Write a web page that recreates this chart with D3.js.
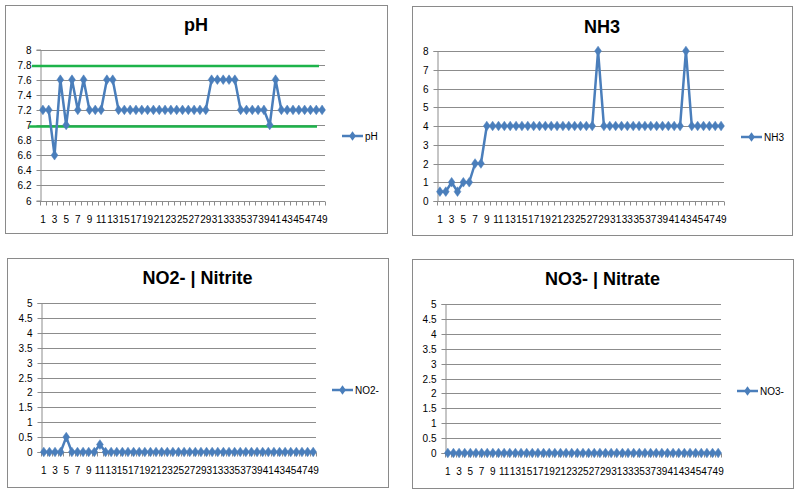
<!DOCTYPE html>
<html>
<head>
<meta charset="utf-8">
<script src="https://cdn.jsdelivr.net/npm/d3@7"></script>
<style>
  html, body { margin: 0; padding: 0; background: #fff; }
  svg { display: block; font-family: "Liberation Sans", Arial, sans-serif; }
</style>
</head>
<body>
<svg id="chart" width="800" height="493"></svg>
<script>
// ---------- DATA ----------
const categories = [1,2,3,4,5,6,7,8,9,10,11,12,13,14,15,16,17,18,19,20,21,22,23,24,25,26,27,28,29,30,31,32,33,34,35,36,37,38,39,40,41,42,43,44,45,46,47,48,49];

const phValues = [7.2,7.2,6.6,7.6,7.0,7.6,7.2,7.6,7.2,7.2,7.2,7.6,7.6,
  7.2,7.2,7.2,7.2,7.2,7.2,7.2,7.2,7.2,7.2,7.2,7.2,7.2,7.2,7.2,7.2,
  7.6,7.6,7.6,7.6,7.6,
  7.2,7.2,7.2,7.2,7.2,
  7.0,7.6,
  7.2,7.2,7.2,7.2,7.2,7.2,7.2,7.2];

const nh3Values = [0.5,0.5,1,0.5,1,1,2,2,
  4,4,4,4,4,4,4,4,4,4,4,4,4,4,4,4,4,4,4,
  8,
  4,4,4,4,4,4,4,4,4,4,4,4,4,4,
  8,
  4,4,4,4,4,4];

const no2Values = [0,0,0,0,0.5,0,0,0,0,0,0.25,
  0,0,0,0,0,0,0,0,0,0,0,0,0,0,0,0,0,0,0,0,0,0,0,0,0,0,0,0,0,0,0,0,0,0,0,0,0,0];

const no3Values = [0,0,0,0,0,0,0,0,0,0,0,0,0,0,0,0,0,0,0,0,0,0,0,0,0,0,0,0,0,0,0,0,0,0,0,0,0,0,0,0,0,0,0,0,0,0,0,0,0];

const phTicks  = [6,6.2,6.4,6.6,6.8,7,7.2,7.4,7.6,7.8,8];
const nh3Ticks = [0,1,2,3,4,5,6,7,8];
const no2Ticks = [0,0.5,1,1.5,2,2.5,3,3.5,4,4.5,5];
const no3Ticks = [0,0.5,1,1.5,2,2.5,3,3.5,4,4.5,5];

const phLimits = [7.78, 6.98];   // green reference lines on the pH chart

const titles = ["pH", "NH3", "NO2- | Nitrite", "NO3- | Nitrate"];
const seriesNames = ["pH", "NH3", "NO2-", "NO3-"];

// ---------- STYLE ----------
const BLUE = "#4a7ebb";
const GRID = "#8c8c8c";
const GREEN = "#1db34a";

const svg = d3.select("#chart");

function drawPanel(cfg) {
  const g = svg.append("g");
  // panel frame
  g.append("rect")
    .attr("x", cfg.panel[0] + 0.5).attr("y", cfg.panel[1] + 0.5)
    .attr("width", cfg.panel[2] - cfg.panel[0]).attr("height", cfg.panel[3] - cfg.panel[1])
    .attr("fill", "#fff").attr("stroke", "#8a8a8a").attr("stroke-width", 1);

  // title
  g.append("text")
    .attr("x", (cfg.panel[0] + cfg.panel[2]) / 2)
    .attr("y", cfg.titleY)
    .attr("text-anchor", "middle")
    .attr("font-size", 18).attr("font-weight", "bold").attr("fill", "#000")
    .text(cfg.title);

  const x = d3.scaleBand().domain(categories).range([cfg.plot[0], cfg.plot[2]]).padding(0);
  const y = d3.scaleLinear().domain(cfg.yDomain).range([cfg.plot[3], cfg.plot[1]]);
  const cx = d => x(d) + x.bandwidth() / 2;

  // horizontal gridlines
  g.append("g").selectAll("line").data(cfg.ticks.slice(1)).join("line")
    .attr("x1", cfg.plot[0]).attr("x2", cfg.plot[2])
    .attr("y1", d => Math.round(y(d)) + 0.5).attr("y2", d => Math.round(y(d)) + 0.5)
    .attr("stroke", GRID).attr("stroke-width", 1);

  // y axis
  const yAxis = d3.axisLeft(y).tickValues(cfg.ticks).tickSize(4).tickPadding(5)
    .tickFormat(d => String(+d.toFixed(2)));
  const ya = g.append("g").attr("transform", `translate(${Math.round(cfg.plot[0]) + 0.5},0)`).call(yAxis);
  ya.select(".domain").attr("stroke", GRID);
  ya.selectAll(".tick line").attr("stroke", GRID);
  ya.selectAll(".tick").attr("transform", d => `translate(0,${Math.round(y(d)) + 0.5})`);
  ya.selectAll("text").attr("font-size", 10).attr("fill", "#000")
    .attr("font-family", "Liberation Sans, Arial, sans-serif");

  // x axis (category axis with tick marks between categories)
  const xAxisY = Math.round(y(cfg.yDomain[0])) + 0.5;
  g.append("line")
    .attr("x1", cfg.plot[0]).attr("x2", cfg.plot[2])
    .attr("y1", xAxisY).attr("y2", xAxisY)
    .attr("stroke", GRID);
  const boundaries = categories.map(c => x(c)).concat([x(categories[categories.length - 1]) + x.bandwidth()]);
  g.append("g").selectAll("line").data(boundaries).join("line")
    .attr("x1", d => Math.round(d) + 0.5).attr("x2", d => Math.round(d) + 0.5)
    .attr("y1", xAxisY).attr("y2", xAxisY + 4)
    .attr("stroke", GRID);
  g.append("g").selectAll("text").data(categories.filter((c, i) => i % 2 === 0)).join("text")
    .attr("x", d => cx(d)).attr("y", xAxisY + 21)
    .attr("text-anchor", "middle").attr("font-size", 10).attr("fill", "#000")
    .text(d => d);

  // reference lines (pH)
  if (cfg.limits) {
    g.append("g").selectAll("line").data(cfg.limits).join("line")
      .attr("x1", (d, i) => cfg.plot[0] - 8 - i * 3)
      .attr("x2", (d, i) => cfg.plot[2] - 6 - i * 2)
      .attr("y1", d => y(d)).attr("y2", d => y(d))
      .attr("stroke", GREEN).attr("stroke-width", 2.5);
  }

  // series line
  const line = d3.line().x((d, i) => cx(categories[i])).y(d => y(d));
  g.append("path").datum(cfg.values)
    .attr("d", line).attr("fill", "none")
    .attr("stroke", BLUE).attr("stroke-width", 2.5).attr("stroke-linejoin", "round");

  // markers (diamonds)
  const diamond = d3.symbol().type(d3.symbolDiamond).size(30);
  g.append("g").selectAll("path").data(cfg.values).join("path")
    .attr("transform", (d, i) => `translate(${cx(categories[i])},${y(d)}) scale(1.15,0.95)`)
    .attr("d", diamond).attr("fill", BLUE).attr("stroke", BLUE).attr("stroke-width", 0.5);

  // legend
  const lg = g.append("g").attr("transform", `translate(${cfg.legend[0]},${cfg.legend[1]})`);
  lg.append("line").attr("x1", 0).attr("x2", 21).attr("y1", 0).attr("y2", 0)
    .attr("stroke", BLUE).attr("stroke-width", 2.5);
  lg.append("path").attr("d", diamond).attr("transform", "translate(10.5,0) scale(1.15,0.95)")
    .attr("fill", BLUE);
  lg.append("text").attr("x", 23).attr("y", 3.5).attr("font-size", 10).attr("fill", "#000")
    .text(cfg.name);
}

drawPanel({
  panel: [5, 5, 387, 233], plot: [40, 49.5, 325, 200.5],
  title: titles[0], titleY: 31, name: seriesNames[0],
  values: phValues, ticks: phTicks, yDomain: [6, 8], limits: phLimits,
  legend: [342, 136]
});
drawPanel({
  panel: [412, 6, 792, 235], plot: [437, 51, 724, 201],
  title: titles[1], titleY: 33, name: seriesNames[1],
  values: nh3Values, ticks: nh3Ticks, yDomain: [0, 8],
  legend: [741, 137]
});
drawPanel({
  panel: [7, 258, 388, 487], plot: [41, 303, 316, 452],
  title: titles[2], titleY: 284, name: seriesNames[2],
  values: no2Values, ticks: no2Ticks, yDomain: [0, 5],
  legend: [332, 390]
});
drawPanel({
  panel: [412, 259, 793, 488], plot: [445, 304, 721, 453],
  title: titles[3], titleY: 285, name: seriesNames[3],
  values: no3Values, ticks: no3Ticks, yDomain: [0, 5],
  legend: [737, 391]
});
</script>
</body>
</html>
